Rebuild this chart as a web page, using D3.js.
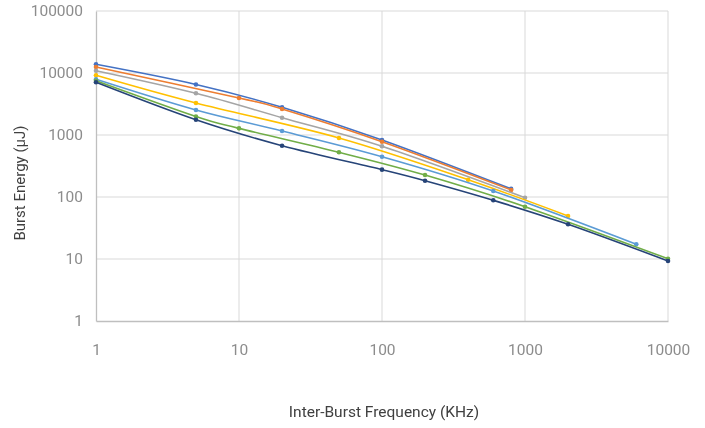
<!DOCTYPE html>
<html>
<head>
<meta charset="utf-8">
<script src="https://cdn.jsdelivr.net/npm/d3@7"></script>
<style>
  body { margin: 0; background: #fff; }
  text { font-family: Roboto, "Noto Sans", sans-serif; }
  svg { will-change: transform; }
</style>
</head>
<body>
<script>
  // series data (x = kHz, y = µJ)
  var blueX = [1, 5, 20, 100, 800];
  var blueY = [13800, 6530, 2800, 830, 135];
  var orangeX = [1, 10, 20, 100, 800];
  var orangeY = [12500, 3950, 2630, 780, 130];
  var grayX = [1, 5, 20, 100, 1000];
  var grayY = [10900, 4710, 1900, 657, 97.5];
  var yellowX = [1, 5, 50, 400, 2000];
  var yellowY = [9180, 3280, 895, 190, 49.4];
  var lightBlueX = [1, 5, 20, 100, 600, 6000];
  var lightBlueY = [7910, 2530, 1160, 447, 125, 17.3];
  var greenX = [1, 5, 10, 50, 200, 1000, 10000];
  var greenY = [7510, 1990, 1280, 526, 226, 69.8, 10.1];
  var darkBlueX = [1, 5, 20, 100, 200, 600, 2000, 10000];
  var darkBlueY = [7080, 1760, 672, 276, 183, 88.5, 36.3, 9.3];

  var xTicks = [1, 10, 100, 1000, 10000];
  var yTicks = [1, 10, 100, 1000, 10000, 100000];

  var series = [
    { x: blueX, y: blueY, color: '#4472C4' },
    { x: orangeX, y: orangeY, color: '#ED7D31' },
    { x: grayX, y: grayY, color: '#A5A5A5' },
    { x: yellowX, y: yellowY, color: '#FFC000' },
    { x: lightBlueX, y: lightBlueY, color: '#5B9BD5' },
    { x: greenX, y: greenY, color: '#70AD47' },
    { x: darkBlueX, y: darkBlueY, color: '#264478' }
  ];

  var width = 705, height = 428;
  var plotLeft = 96, plotRight = 668, plotTop = 11, plotBottom = 321;

  var svg = d3.select('body').append('svg').attr('width', width).attr('height', height);

  var x = d3.scaleLog().domain([1, 10000]).range([plotLeft, plotRight]);
  var y = d3.scaleLog().domain([1, 100000]).range([plotBottom, plotTop]);

  // gridlines
  svg.append('g').selectAll('line')
    .data(yTicks.slice(1))
    .enter().append('line')
    .attr('x1', plotLeft).attr('x2', plotRight)
    .attr('y1', function (d) { return y(d); })
    .attr('y2', function (d) { return y(d); })
    .attr('stroke', '#d9d9d9').attr('stroke-width', 1);

  svg.append('g').selectAll('line')
    .data(xTicks.slice(1))
    .enter().append('line')
    .attr('y1', plotTop).attr('y2', plotBottom)
    .attr('x1', function (d) { return x(d); })
    .attr('x2', function (d) { return x(d); })
    .attr('stroke', '#d9d9d9').attr('stroke-width', 1);

  // axes
  var xAxis = svg.append('g')
    .attr('transform', 'translate(0,' + plotBottom + ')')
    .call(d3.axisBottom(x).tickValues(xTicks).tickFormat(d3.format('d')).tickSize(0).tickPadding(23));
  var yAxis = svg.append('g')
    .attr('transform', 'translate(' + plotLeft + ',0)')
    .call(d3.axisLeft(y).tickValues(yTicks).tickFormat(d3.format('d')).tickSize(0).tickPadding(13));

  [xAxis, yAxis].forEach(function (a) {
    a.select('.domain').attr('stroke', '#bfbfbf').attr('stroke-width', 1.3);
    a.selectAll('text').style('fill', '#8c8c8c').style('font-size', '15.5px').style('font-family', 'Roboto');
  });

  // lines
  var line = d3.line()
    .x(function (d) { return x(d[0]); })
    .y(function (d) { return y(d[1]); })
    .curve(d3.curveCardinal.tension(0));

  series.forEach(function (s) {
    var pts = s.x.map(function (v, i) { return [v, s.y[i]]; });
    svg.append('path')
      .datum(pts)
      .attr('d', line)
      .attr('fill', 'none')
      .attr('stroke', s.color)
      .attr('stroke-width', 1.6);
    svg.append('g').selectAll('circle')
      .data(pts)
      .enter().append('circle')
      .attr('cx', function (d) { return x(d[0]); })
      .attr('cy', function (d) { return y(d[1]); })
      .attr('r', 2.3)
      .attr('fill', s.color);
  });

  // axis titles
  svg.append('text')
    .attr('x', 384).attr('y', 417)
    .attr('text-anchor', 'middle')
    .attr('fill', '#404040')
    .style('font-size', '15.5px')
    .text('Inter-Burst Frequency (KHz)');

  svg.append('text')
    .attr('transform', 'translate(25,183) rotate(-90)')
    .attr('text-anchor', 'middle')
    .attr('fill', '#404040')
    .style('font-size', '15px')
    .text('Burst Energy (µJ)');
</script>
</body>
</html>
